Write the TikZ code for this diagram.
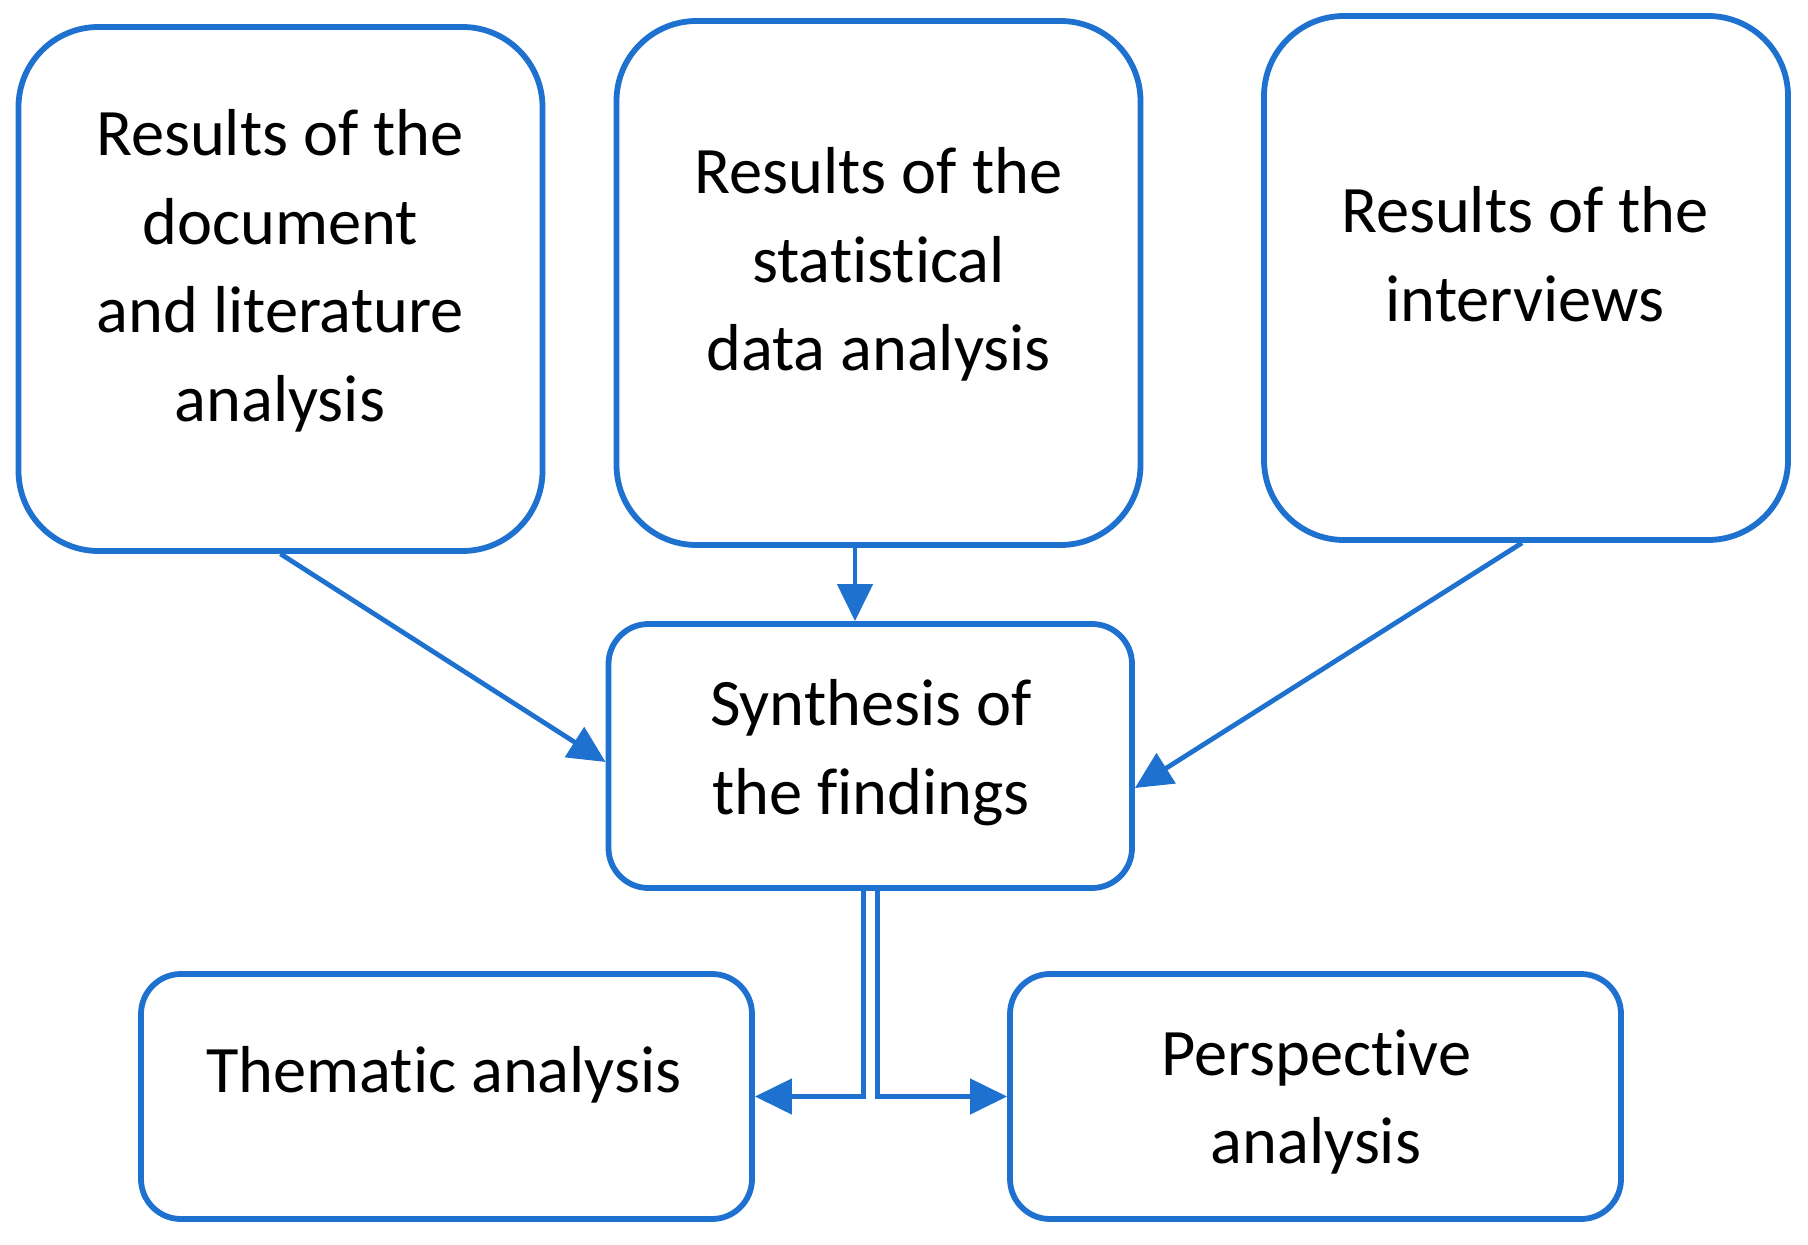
\documentclass[tikz,border=0pt]{standalone}
\usepackage{fontspec}
\setmainfont{Carlito}[RawFeature={-liga;-clig;-calt;-dlig;-rlig}]
\usetikzlibrary{arrows.meta}
\definecolor{myblue}{RGB}{30,113,207}
\begin{document}
\begin{tikzpicture}[x=0.5pt,y=-0.5pt,
  box/.style={draw=myblue,line width=2.9pt,inner sep=0pt,fill=white},
  bigbox/.style={box,rounded corners=40pt,minimum width=262pt,minimum height=262pt},
  midbox/.style={box,rounded corners=20pt},
  lbl/.style={font=\fontsize{33.2pt}{44.25pt}\selectfont,align=center,anchor=north,inner sep=0pt,execute at begin node=\strut},
  arr/.style={draw=myblue,line width=2.4pt,-{Triangle[length=18.5pt,width=17.5pt]}}]
\useasboundingbox (0,0) rectangle (1808,1245);
\node[bigbox] (b1) at (280.5,289) {};
\node[bigbox] (b2) at (878.5,283) {};
\node[bigbox] (b3) at (1526,278) {};
\node[midbox,minimum width=261.75pt,minimum height=132pt] (syn) at (870.25,756) {};
\node[midbox,minimum width=305.5pt,minimum height=122.5pt] (them) at (446.5,1096.5) {};
\node[midbox,minimum width=305.5pt,minimum height=122.5pt] (persp) at (1315.5,1096.5) {};
\node[lbl] (t1) at (280,109) {Results of the\\document\\and literature\\analysis};
\node[lbl] (t2) at (878.5,147) {Results of the\\statistical\\data analysis};
\node[lbl] (t3) at (1525,186) {Results of the\\interviews};
\node[lbl] (t4) at (871,679) {Synthesis of\\the findings};
\node[lbl] (t5) at (444,1030) {Thematic analysis};
\node[lbl] (t6) at (1316,1029) {Perspective\\analysis};
\draw[arr] (b1.south) -- ([yshift=-3pt]syn.west);
\draw[arr] ([xshift=-11.75pt]b2.south) -- ([xshift=-11.75pt]b2.south |- syn.north);
\draw[arr] ([xshift=-2pt]b3.south) -- ([yshift=-16pt]syn.east);
\draw[arr] ([xshift=-3.2pt]syn.south) |- (them.east);
\draw[arr] ([xshift=3.6pt]syn.south) |- (persp.west);
\end{tikzpicture}
\end{document}
